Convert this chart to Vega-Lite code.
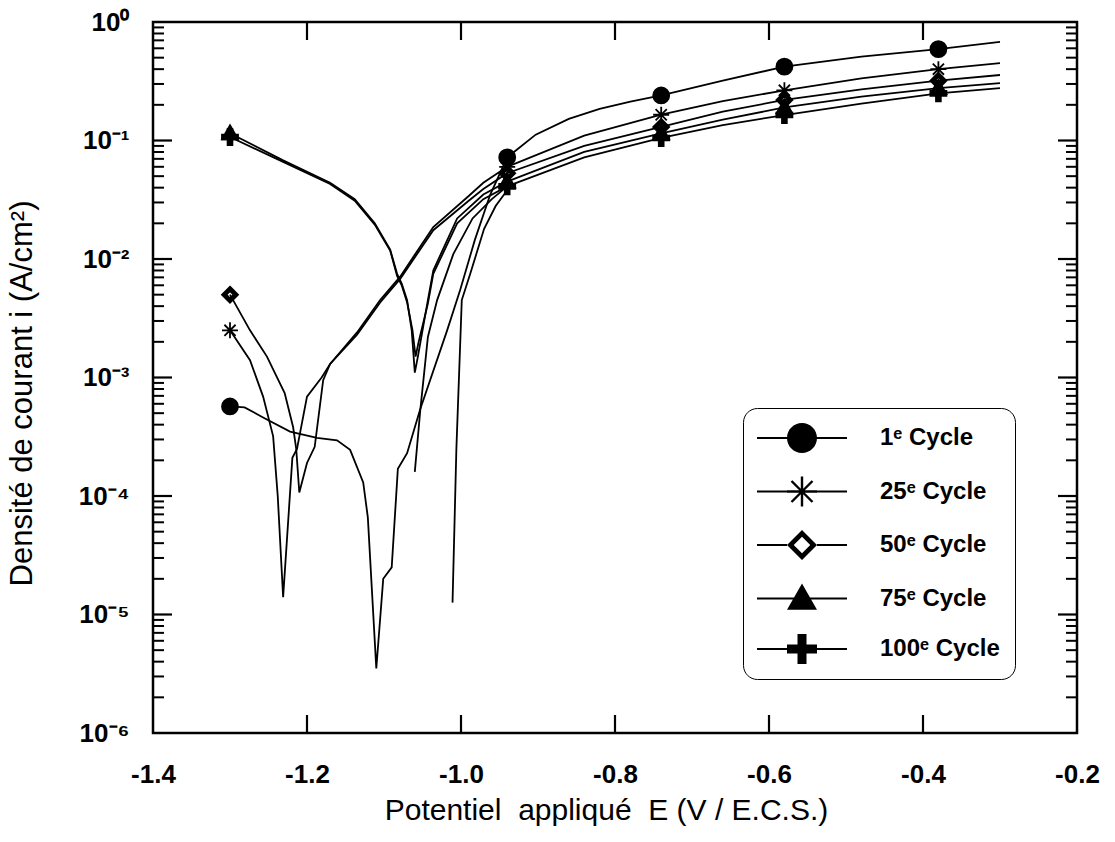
{
  "$schema": "https://vega.github.io/schema/vega-lite/v6.json",
  "autosize": {"type": "none"},
  "width": 924,
  "height": 711,
  "padding": {"left": 153, "top": 22, "right": 38, "bottom": 109},
  "background": "white",
  "config": {
    "view": {"stroke": "black", "strokeWidth": 2.5},
    "font": "Liberation Sans",
    "axis": {"grid": false, "labelColor": "black", "titleColor": "black", "domain": false, "labelFont": "Liberation Sans", "titleFont": "Liberation Sans"},
    "axisX": {"orient": "bottom", "ticks": false,
      "labelExpr": "(datum.value < 0 ? '-' : '') + format(abs(datum.value), '.1f')",
      "labelFontSize": 26, "labelFontWeight": "bold", "labelPadding": 28, "labelFlush": false,
      "titleFontSize": 30, "titleFontWeight": "normal", "titlePadding": 8, "titleX": 453},
    "axisY": {"orient": "left", "ticks": false,
      "labelExpr": "datum.value > 0.5 ? '10⁰' : datum.value > 0.05 ? '10⁻¹' : datum.value > 0.005 ? '10⁻²' : datum.value > 0.0005 ? '10⁻³' : datum.value > 0.00005 ? '10⁻⁴' : datum.value > 0.000005 ? '10⁻⁵' : '10⁻⁶'",
      "labelFontSize": 26, "labelFontWeight": "bold", "labelPadding": 24, "labelFlush": false, "labelOverlap": false,
      "titleFontSize": 31, "titleFontWeight": "normal", "titlePadding": 40, "titleY": 371}
  },
  "datasets": {
    "curves": [
      {"cycle": "1ᵉ Cycle", "seg": "1a", "E": -1.300, "i": 5.7e-4},
      {"cycle": "1ᵉ Cycle", "seg": "1a", "E": -1.281, "i": 5.6e-4},
      {"cycle": "1ᵉ Cycle", "seg": "1a", "E": -1.257, "i": 4.6e-4},
      {"cycle": "1ᵉ Cycle", "seg": "1a", "E": -1.222, "i": 3.5e-4},
      {"cycle": "1ᵉ Cycle", "seg": "1a", "E": -1.187, "i": 3.1e-4},
      {"cycle": "1ᵉ Cycle", "seg": "1a", "E": -1.161, "i": 2.95e-4},
      {"cycle": "1ᵉ Cycle", "seg": "1a", "E": -1.144, "i": 2.45e-4},
      {"cycle": "1ᵉ Cycle", "seg": "1a", "E": -1.127, "i": 1.3e-4},
      {"cycle": "1ᵉ Cycle", "seg": "1a", "E": -1.121, "i": 6.6e-5},
      {"cycle": "1ᵉ Cycle", "seg": "1a", "E": -1.110, "i": 3.5e-6},
      {"cycle": "1ᵉ Cycle", "seg": "1a", "E": -1.101, "i": 2.0e-5},
      {"cycle": "1ᵉ Cycle", "seg": "1a", "E": -1.090, "i": 2.5e-5},
      {"cycle": "1ᵉ Cycle", "seg": "1a", "E": -1.082, "i": 1.7e-4},
      {"cycle": "1ᵉ Cycle", "seg": "1a", "E": -1.070, "i": 2.3e-4},
      {"cycle": "1ᵉ Cycle", "seg": "1a", "E": -1.053, "i": 5.4e-4},
      {"cycle": "1ᵉ Cycle", "seg": "1a", "E": -1.018, "i": 2.5e-3},
      {"cycle": "1ᵉ Cycle", "seg": "1a", "E": -1.001, "i": 5.5e-3},
      {"cycle": "1ᵉ Cycle", "seg": "1a", "E": -0.982, "i": 0.0145},
      {"cycle": "1ᵉ Cycle", "seg": "1a", "E": -0.962, "i": 0.035},
      {"cycle": "1ᵉ Cycle", "seg": "1a", "E": -0.940, "i": 0.072},
      {"cycle": "1ᵉ Cycle", "seg": "1a", "E": -0.903, "i": 0.112},
      {"cycle": "1ᵉ Cycle", "seg": "1a", "E": -0.860, "i": 0.152},
      {"cycle": "1ᵉ Cycle", "seg": "1a", "E": -0.820, "i": 0.185},
      {"cycle": "1ᵉ Cycle", "seg": "1a", "E": -0.780, "i": 0.213},
      {"cycle": "1ᵉ Cycle", "seg": "1a", "E": -0.740, "i": 0.24},
      {"cycle": "1ᵉ Cycle", "seg": "1a", "E": -0.660, "i": 0.32},
      {"cycle": "1ᵉ Cycle", "seg": "1a", "E": -0.580, "i": 0.42},
      {"cycle": "1ᵉ Cycle", "seg": "1a", "E": -0.480, "i": 0.51},
      {"cycle": "1ᵉ Cycle", "seg": "1a", "E": -0.380, "i": 0.59},
      {"cycle": "1ᵉ Cycle", "seg": "1a", "E": -0.300, "i": 0.68},

      {"cycle": "25ᵉ Cycle", "seg": "25a", "E": -1.300, "i": 2.5e-3},
      {"cycle": "25ᵉ Cycle", "seg": "25a", "E": -1.274, "i": 1.4e-3},
      {"cycle": "25ᵉ Cycle", "seg": "25a", "E": -1.257, "i": 6.9e-4},
      {"cycle": "25ᵉ Cycle", "seg": "25a", "E": -1.244, "i": 3.2e-4},
      {"cycle": "25ᵉ Cycle", "seg": "25a", "E": -1.238, "i": 1.0e-4},
      {"cycle": "25ᵉ Cycle", "seg": "25a", "E": -1.231, "i": 1.4e-5},
      {"cycle": "25ᵉ Cycle", "seg": "25a", "E": -1.219, "i": 2.1e-4},
      {"cycle": "25ᵉ Cycle", "seg": "25a", "E": -1.213, "i": 2.5e-4},
      {"cycle": "25ᵉ Cycle", "seg": "25a", "E": -1.200, "i": 6.9e-4},
      {"cycle": "25ᵉ Cycle", "seg": "25a", "E": -1.181, "i": 1.0e-3},
      {"cycle": "25ᵉ Cycle", "seg": "25a", "E": -1.170, "i": 1.3e-3},
      {"cycle": "25ᵉ Cycle", "seg": "25a", "E": -1.135, "i": 2.4e-3},
      {"cycle": "25ᵉ Cycle", "seg": "25a", "E": -1.105, "i": 4.5e-3},
      {"cycle": "25ᵉ Cycle", "seg": "25a", "E": -1.079, "i": 7.1e-3},
      {"cycle": "25ᵉ Cycle", "seg": "25a", "E": -1.036, "i": 0.0186},
      {"cycle": "25ᵉ Cycle", "seg": "25a", "E": -0.990, "i": 0.034},
      {"cycle": "25ᵉ Cycle", "seg": "25a", "E": -0.971, "i": 0.044},
      {"cycle": "25ᵉ Cycle", "seg": "25a", "E": -0.940, "i": 0.060},
      {"cycle": "25ᵉ Cycle", "seg": "25a", "E": -0.840, "i": 0.11},
      {"cycle": "25ᵉ Cycle", "seg": "25a", "E": -0.740, "i": 0.165},
      {"cycle": "25ᵉ Cycle", "seg": "25a", "E": -0.660, "i": 0.215},
      {"cycle": "25ᵉ Cycle", "seg": "25a", "E": -0.580, "i": 0.265},
      {"cycle": "25ᵉ Cycle", "seg": "25a", "E": -0.480, "i": 0.335},
      {"cycle": "25ᵉ Cycle", "seg": "25a", "E": -0.380, "i": 0.40},
      {"cycle": "25ᵉ Cycle", "seg": "25a", "E": -0.300, "i": 0.45},

      {"cycle": "50ᵉ Cycle", "seg": "50a", "E": -1.300, "i": 5.0e-3},
      {"cycle": "50ᵉ Cycle", "seg": "50a", "E": -1.274, "i": 2.5e-3},
      {"cycle": "50ᵉ Cycle", "seg": "50a", "E": -1.252, "i": 1.5e-3},
      {"cycle": "50ᵉ Cycle", "seg": "50a", "E": -1.229, "i": 7.4e-4},
      {"cycle": "50ᵉ Cycle", "seg": "50a", "E": -1.218, "i": 3.8e-4},
      {"cycle": "50ᵉ Cycle", "seg": "50a", "E": -1.214, "i": 2.5e-4},
      {"cycle": "50ᵉ Cycle", "seg": "50a", "E": -1.210, "i": 1.07e-4},
      {"cycle": "50ᵉ Cycle", "seg": "50a", "E": -1.200, "i": 1.9e-4},
      {"cycle": "50ᵉ Cycle", "seg": "50a", "E": -1.190, "i": 2.6e-4},
      {"cycle": "50ᵉ Cycle", "seg": "50a", "E": -1.179, "i": 9.5e-4},
      {"cycle": "50ᵉ Cycle", "seg": "50a", "E": -1.170, "i": 1.3e-3},
      {"cycle": "50ᵉ Cycle", "seg": "50a", "E": -1.135, "i": 2.3e-3},
      {"cycle": "50ᵉ Cycle", "seg": "50a", "E": -1.105, "i": 4.3e-3},
      {"cycle": "50ᵉ Cycle", "seg": "50a", "E": -1.079, "i": 6.8e-3},
      {"cycle": "50ᵉ Cycle", "seg": "50a", "E": -1.036, "i": 0.0175},
      {"cycle": "50ᵉ Cycle", "seg": "50a", "E": -0.990, "i": 0.031},
      {"cycle": "50ᵉ Cycle", "seg": "50a", "E": -0.971, "i": 0.039},
      {"cycle": "50ᵉ Cycle", "seg": "50a", "E": -0.940, "i": 0.053},
      {"cycle": "50ᵉ Cycle", "seg": "50a", "E": -0.840, "i": 0.09},
      {"cycle": "50ᵉ Cycle", "seg": "50a", "E": -0.740, "i": 0.13},
      {"cycle": "50ᵉ Cycle", "seg": "50a", "E": -0.660, "i": 0.175},
      {"cycle": "50ᵉ Cycle", "seg": "50a", "E": -0.580, "i": 0.22},
      {"cycle": "50ᵉ Cycle", "seg": "50a", "E": -0.480, "i": 0.27},
      {"cycle": "50ᵉ Cycle", "seg": "50a", "E": -0.380, "i": 0.32},
      {"cycle": "50ᵉ Cycle", "seg": "50a", "E": -0.300, "i": 0.357},

      {"cycle": "75ᵉ Cycle", "seg": "75a", "E": -1.300, "i": 0.115},
      {"cycle": "75ᵉ Cycle", "seg": "75a", "E": -1.231, "i": 0.068},
      {"cycle": "75ᵉ Cycle", "seg": "75a", "E": -1.170, "i": 0.044},
      {"cycle": "75ᵉ Cycle", "seg": "75a", "E": -1.138, "i": 0.032},
      {"cycle": "75ᵉ Cycle", "seg": "75a", "E": -1.112, "i": 0.020},
      {"cycle": "75ᵉ Cycle", "seg": "75a", "E": -1.092, "i": 0.012},
      {"cycle": "75ᵉ Cycle", "seg": "75a", "E": -1.083, "i": 0.0075},
      {"cycle": "75ᵉ Cycle", "seg": "75a", "E": -1.077, "i": 0.0062},
      {"cycle": "75ᵉ Cycle", "seg": "75a", "E": -1.070, "i": 0.0045},
      {"cycle": "75ᵉ Cycle", "seg": "75a", "E": -1.064, "i": 0.0025},
      {"cycle": "75ᵉ Cycle", "seg": "75a", "E": -1.060, "i": 1.1e-3},
      {"cycle": "75ᵉ Cycle", "seg": "75a", "E": -1.056, "i": 1.5e-3},
      {"cycle": "75ᵉ Cycle", "seg": "75a", "E": -1.043, "i": 4.5e-3},
      {"cycle": "75ᵉ Cycle", "seg": "75a", "E": -1.036, "i": 8.0e-3},
      {"cycle": "75ᵉ Cycle", "seg": "75a", "E": -1.005, "i": 0.022},
      {"cycle": "75ᵉ Cycle", "seg": "75a", "E": -0.971, "i": 0.035},
      {"cycle": "75ᵉ Cycle", "seg": "75a", "E": -0.940, "i": 0.045},
      {"cycle": "75ᵉ Cycle", "seg": "75a", "E": -0.840, "i": 0.08},
      {"cycle": "75ᵉ Cycle", "seg": "75a", "E": -0.740, "i": 0.115},
      {"cycle": "75ᵉ Cycle", "seg": "75a", "E": -0.660, "i": 0.15},
      {"cycle": "75ᵉ Cycle", "seg": "75a", "E": -0.580, "i": 0.19},
      {"cycle": "75ᵉ Cycle", "seg": "75a", "E": -0.480, "i": 0.235},
      {"cycle": "75ᵉ Cycle", "seg": "75a", "E": -0.380, "i": 0.277},
      {"cycle": "75ᵉ Cycle", "seg": "75a", "E": -0.300, "i": 0.305},

      {"cycle": "75ᵉ Cycle", "seg": "75b", "E": -1.011, "i": 1.26e-5},
      {"cycle": "75ᵉ Cycle", "seg": "75b", "E": -1.006, "i": 2.5e-4},
      {"cycle": "75ᵉ Cycle", "seg": "75b", "E": -0.999, "i": 4.5e-3},
      {"cycle": "75ᵉ Cycle", "seg": "75b", "E": -0.988, "i": 0.0075},
      {"cycle": "75ᵉ Cycle", "seg": "75b", "E": -0.970, "i": 0.018},
      {"cycle": "75ᵉ Cycle", "seg": "75b", "E": -0.955, "i": 0.028},
      {"cycle": "75ᵉ Cycle", "seg": "75b", "E": -0.940, "i": 0.038},

      {"cycle": "100ᵉ Cycle", "seg": "100a", "E": -1.300, "i": 0.107},
      {"cycle": "100ᵉ Cycle", "seg": "100a", "E": -1.231, "i": 0.066},
      {"cycle": "100ᵉ Cycle", "seg": "100a", "E": -1.170, "i": 0.043},
      {"cycle": "100ᵉ Cycle", "seg": "100a", "E": -1.138, "i": 0.031},
      {"cycle": "100ᵉ Cycle", "seg": "100a", "E": -1.112, "i": 0.0195},
      {"cycle": "100ᵉ Cycle", "seg": "100a", "E": -1.092, "i": 0.0118},
      {"cycle": "100ᵉ Cycle", "seg": "100a", "E": -1.083, "i": 0.0072},
      {"cycle": "100ᵉ Cycle", "seg": "100a", "E": -1.077, "i": 0.006},
      {"cycle": "100ᵉ Cycle", "seg": "100a", "E": -1.070, "i": 0.0043},
      {"cycle": "100ᵉ Cycle", "seg": "100a", "E": -1.063, "i": 0.0025},
      {"cycle": "100ᵉ Cycle", "seg": "100a", "E": -1.059, "i": 1.5e-3},
      {"cycle": "100ᵉ Cycle", "seg": "100a", "E": -1.055, "i": 2.0e-3},
      {"cycle": "100ᵉ Cycle", "seg": "100a", "E": -1.043, "i": 4.2e-3},
      {"cycle": "100ᵉ Cycle", "seg": "100a", "E": -1.036, "i": 7.5e-3},
      {"cycle": "100ᵉ Cycle", "seg": "100a", "E": -1.005, "i": 0.020},
      {"cycle": "100ᵉ Cycle", "seg": "100a", "E": -0.971, "i": 0.032},
      {"cycle": "100ᵉ Cycle", "seg": "100a", "E": -0.940, "i": 0.041},
      {"cycle": "100ᵉ Cycle", "seg": "100a", "E": -0.840, "i": 0.072},
      {"cycle": "100ᵉ Cycle", "seg": "100a", "E": -0.740, "i": 0.105},
      {"cycle": "100ᵉ Cycle", "seg": "100a", "E": -0.660, "i": 0.135},
      {"cycle": "100ᵉ Cycle", "seg": "100a", "E": -0.580, "i": 0.164},
      {"cycle": "100ᵉ Cycle", "seg": "100a", "E": -0.480, "i": 0.205},
      {"cycle": "100ᵉ Cycle", "seg": "100a", "E": -0.380, "i": 0.25},
      {"cycle": "100ᵉ Cycle", "seg": "100a", "E": -0.300, "i": 0.277},

      {"cycle": "100ᵉ Cycle", "seg": "100b", "E": -1.060, "i": 1.6e-4},
      {"cycle": "100ᵉ Cycle", "seg": "100b", "E": -1.053, "i": 5.2e-4},
      {"cycle": "100ᵉ Cycle", "seg": "100b", "E": -1.043, "i": 2.2e-3},
      {"cycle": "100ᵉ Cycle", "seg": "100b", "E": -1.031, "i": 4.5e-3},
      {"cycle": "100ᵉ Cycle", "seg": "100b", "E": -1.010, "i": 0.011},
      {"cycle": "100ᵉ Cycle", "seg": "100b", "E": -0.985, "i": 0.022},
      {"cycle": "100ᵉ Cycle", "seg": "100b", "E": -0.960, "i": 0.032},
      {"cycle": "100ᵉ Cycle", "seg": "100b", "E": -0.940, "i": 0.041}
    ],
    "markers": [
      {"cycle": "1ᵉ Cycle", "E": -1.30, "i": 5.7e-4},
      {"cycle": "1ᵉ Cycle", "E": -0.94, "i": 0.072},
      {"cycle": "1ᵉ Cycle", "E": -0.74, "i": 0.24},
      {"cycle": "1ᵉ Cycle", "E": -0.58, "i": 0.42},
      {"cycle": "1ᵉ Cycle", "E": -0.38, "i": 0.59},
      {"cycle": "25ᵉ Cycle", "E": -1.30, "i": 2.5e-3},
      {"cycle": "25ᵉ Cycle", "E": -0.94, "i": 0.060},
      {"cycle": "25ᵉ Cycle", "E": -0.74, "i": 0.165},
      {"cycle": "25ᵉ Cycle", "E": -0.58, "i": 0.265},
      {"cycle": "25ᵉ Cycle", "E": -0.38, "i": 0.40},
      {"cycle": "50ᵉ Cycle", "E": -1.30, "i": 5.0e-3},
      {"cycle": "50ᵉ Cycle", "E": -0.94, "i": 0.053},
      {"cycle": "50ᵉ Cycle", "E": -0.74, "i": 0.13},
      {"cycle": "50ᵉ Cycle", "E": -0.58, "i": 0.22},
      {"cycle": "50ᵉ Cycle", "E": -0.38, "i": 0.32},
      {"cycle": "75ᵉ Cycle", "E": -1.30, "i": 0.115},
      {"cycle": "75ᵉ Cycle", "E": -0.94, "i": 0.045},
      {"cycle": "75ᵉ Cycle", "E": -0.74, "i": 0.115},
      {"cycle": "75ᵉ Cycle", "E": -0.58, "i": 0.19},
      {"cycle": "75ᵉ Cycle", "E": -0.38, "i": 0.277},
      {"cycle": "100ᵉ Cycle", "E": -1.30, "i": 0.107},
      {"cycle": "100ᵉ Cycle", "E": -0.94, "i": 0.041},
      {"cycle": "100ᵉ Cycle", "E": -0.74, "i": 0.105},
      {"cycle": "100ᵉ Cycle", "E": -0.58, "i": 0.164},
      {"cycle": "100ᵉ Cycle", "E": -0.38, "i": 0.25}
    ],
    "xticks": [{"t": -1.2}, {"t": -1.0}, {"t": -0.8}, {"t": -0.6}, {"t": -0.4}],
    "ymajor": [{"v": 1e-5}, {"v": 1e-4}, {"v": 1e-3}, {"v": 1e-2}, {"v": 1e-1}],
    "yminor": [
      {"v": 2e-6}, {"v": 3e-6}, {"v": 4e-6}, {"v": 5e-6}, {"v": 6e-6}, {"v": 7e-6}, {"v": 8e-6}, {"v": 9e-6},
      {"v": 2e-5}, {"v": 3e-5}, {"v": 4e-5}, {"v": 5e-5}, {"v": 6e-5}, {"v": 7e-5}, {"v": 8e-5}, {"v": 9e-5},
      {"v": 2e-4}, {"v": 3e-4}, {"v": 4e-4}, {"v": 5e-4}, {"v": 6e-4}, {"v": 7e-4}, {"v": 8e-4}, {"v": 9e-4},
      {"v": 2e-3}, {"v": 3e-3}, {"v": 4e-3}, {"v": 5e-3}, {"v": 6e-3}, {"v": 7e-3}, {"v": 8e-3}, {"v": 9e-3},
      {"v": 2e-2}, {"v": 3e-2}, {"v": 4e-2}, {"v": 5e-2}, {"v": 6e-2}, {"v": 7e-2}, {"v": 8e-2}, {"v": 9e-2},
      {"v": 2e-1}, {"v": 3e-1}, {"v": 4e-1}, {"v": 5e-1}, {"v": 6e-1}, {"v": 7e-1}, {"v": 8e-1}, {"v": 9e-1}
    ]
  },
  "layer": [
    {
      "data": {"name": "curves"},
      "mark": {"type": "line", "color": "black", "strokeWidth": 1.8},
      "encoding": {
        "x": {"field": "E", "type": "quantitative", "scale": {"domain": [-1.4, -0.2], "nice": false, "zero": false},
          "axis": {"title": "Potentiel\u00a0 appliqué\u00a0 E (V / E.C.S.)", "values": [-1.4, -1.2, -1.0, -0.8, -0.6, -0.4, -0.2]}},
        "y": {"field": "i", "type": "quantitative", "scale": {"type": "log", "domain": [1e-6, 1], "nice": false},
          "axis": {"title": "Densité de courant i (A/cm²)", "values": [1e-6, 1e-5, 1e-4, 1e-3, 1e-2, 1e-1, 1]}},
        "detail": {"field": "seg"}
      }
    },
    {
      "data": {"name": "xticks"},
      "mark": {"type": "rule", "color": "black", "strokeWidth": 2.2},
      "encoding": {
        "x": {"field": "t", "type": "quantitative", "axis": {"title": "Potentiel\u00a0 appliqué\u00a0 E (V / E.C.S.)", "values": [-1.4, -1.2, -1.0, -0.8, -0.6, -0.4, -0.2]}},
        "y": {"datum": 1e-6, "type": "quantitative", "axis": {"title": "Densité de courant i (A/cm²)", "values": [1e-6, 1e-5, 1e-4, 1e-3, 1e-2, 1e-1, 1]}},
        "y2": {"datum": 1.4187e-6}
      }
    },
    {
      "data": {"name": "xticks"},
      "mark": {"type": "rule", "color": "black", "strokeWidth": 2.2},
      "encoding": {
        "x": {"field": "t", "type": "quantitative", "axis": {"title": "Potentiel\u00a0 appliqué\u00a0 E (V / E.C.S.)", "values": [-1.4, -1.2, -1.0, -0.8, -0.6, -0.4, -0.2]}},
        "y": {"datum": 1, "type": "quantitative", "axis": {"title": "Densité de courant i (A/cm²)", "values": [1e-6, 1e-5, 1e-4, 1e-3, 1e-2, 1e-1, 1]}},
        "y2": {"datum": 0.7049}
      }
    },
    {
      "data": {"name": "ymajor"},
      "mark": {"type": "rule", "color": "black", "strokeWidth": 2.2},
      "encoding": {
        "y": {"field": "v", "type": "quantitative", "axis": {"title": "Densité de courant i (A/cm²)", "values": [1e-6, 1e-5, 1e-4, 1e-3, 1e-2, 1e-1, 1]}},
        "x": {"datum": -1.4, "type": "quantitative", "axis": {"title": "Potentiel\u00a0 appliqué\u00a0 E (V / E.C.S.)", "values": [-1.4, -1.2, -1.0, -0.8, -0.6, -0.4, -0.2]}},
        "x2": {"datum": -1.3753}
      }
    },
    {
      "data": {"name": "yminor"},
      "mark": {"type": "rule", "color": "black", "strokeWidth": 2},
      "encoding": {
        "y": {"field": "v", "type": "quantitative", "axis": {"title": "Densité de courant i (A/cm²)", "values": [1e-6, 1e-5, 1e-4, 1e-3, 1e-2, 1e-1, 1]}},
        "x": {"datum": -1.4, "type": "quantitative", "axis": {"title": "Potentiel\u00a0 appliqué\u00a0 E (V / E.C.S.)", "values": [-1.4, -1.2, -1.0, -0.8, -0.6, -0.4, -0.2]}},
        "x2": {"datum": -1.3857}
      }
    },
    {
      "data": {"name": "ymajor"},
      "mark": {"type": "rule", "color": "black", "strokeWidth": 2.2},
      "encoding": {
        "y": {"field": "v", "type": "quantitative", "axis": {"title": "Densité de courant i (A/cm²)", "values": [1e-6, 1e-5, 1e-4, 1e-3, 1e-2, 1e-1, 1]}},
        "x": {"datum": -0.2, "type": "quantitative", "axis": {"title": "Potentiel\u00a0 appliqué\u00a0 E (V / E.C.S.)", "values": [-1.4, -1.2, -1.0, -0.8, -0.6, -0.4, -0.2]}},
        "x2": {"datum": -0.2247}
      }
    },
    {
      "data": {"name": "yminor"},
      "mark": {"type": "rule", "color": "black", "strokeWidth": 2},
      "encoding": {
        "y": {"field": "v", "type": "quantitative", "axis": {"title": "Densité de courant i (A/cm²)", "values": [1e-6, 1e-5, 1e-4, 1e-3, 1e-2, 1e-1, 1]}},
        "x": {"datum": -0.2, "type": "quantitative", "axis": {"title": "Potentiel\u00a0 appliqué\u00a0 E (V / E.C.S.)", "values": [-1.4, -1.2, -1.0, -0.8, -0.6, -0.4, -0.2]}},
        "x2": {"datum": -0.2143}
      }
    },
    {
      "data": {"name": "markers"},
      "mark": {"type": "point", "filled": true, "color": "black", "stroke": "black", "strokeWidth": 1.8, "size": 256, "opacity": 1},
      "encoding": {
        "x": {"field": "E", "type": "quantitative", "axis": {"title": "Potentiel\u00a0 appliqué\u00a0 E (V / E.C.S.)", "values": [-1.4, -1.2, -1.0, -0.8, -0.6, -0.4, -0.2]}},
        "y": {"field": "i", "type": "quantitative", "axis": {"title": "Densité de courant i (A/cm²)", "values": [1e-6, 1e-5, 1e-4, 1e-3, 1e-2, 1e-1, 1]}},
        "shape": {"field": "cycle", "type": "nominal",
          "scale": {"domain": ["1ᵉ Cycle", "25ᵉ Cycle", "50ᵉ Cycle", "75ᵉ Cycle", "100ᵉ Cycle"],
            "range": [
              "M1,0A1,1,0,1,1,-1,0A1,1,0,1,1,1,0Z",
              "M0,-1V1M-1,0H1M-0.7,-0.7L0.7,0.7M-0.7,0.7L0.7,-0.7",
              "M0,-1L1,0L0,1L-1,0Z M0,-0.45L-0.45,0L0,0.45L0.45,0Z",
              "M0,-1L1,0.75L-1,0.75Z",
              "M-0.3,-1H0.3V-0.3H1V0.3H0.3V1H-0.3V0.3H-1V-0.3H-0.3Z"
            ]},
          "legend": null}
      }
    },
    {
      "data": {"name": "markers"},
      "mark": {"type": "point", "filled": true, "color": "black", "size": 256, "opacity": 0},
      "encoding": {
        "x": {"field": "E", "type": "quantitative", "axis": {"title": "Potentiel\u00a0 appliqué\u00a0 E (V / E.C.S.)", "values": [-1.4, -1.2, -1.0, -0.8, -0.6, -0.4, -0.2]}},
        "y": {"field": "i", "type": "quantitative", "axis": {"title": "Densité de courant i (A/cm²)", "values": [1e-6, 1e-5, 1e-4, 1e-3, 1e-2, 1e-1, 1]}},
        "shape": {"field": "cycle", "type": "nominal",
          "scale": {"domain": ["1ᵉ Cycle", "25ᵉ Cycle", "50ᵉ Cycle", "75ᵉ Cycle", "100ᵉ Cycle"],
            "range": [
              "M-3,-0.07H3V0.07H-3Z M1,0A1,1,0,1,1,-1,0A1,1,0,1,1,1,0Z",
              "M-3,-0.07H3V0.07H-3Z M-0.08,-1H0.08V1H-0.08Z M-1,-0.08H1V0.08H-1Z M-0.757,-0.643L-0.643,-0.757L0.757,0.643L0.643,0.757Z M-0.643,0.757L-0.757,0.643L0.643,-0.757L0.757,-0.643Z",
              "M-3,-0.07H-1V0.07H-3Z M1,-0.07H3V0.07H1Z M0,-1L1,0L0,1L-1,0Z M0,-0.55L-0.55,0L0,0.55L0.55,0Z",
              "M-3,-0.07H3V0.07H-3Z M0,-1L1,0.75L-1,0.75Z",
              "M-3,-0.07H3V0.07H-3Z M-0.3,-1H0.3V-0.3H1V0.3H0.3V1H-0.3V0.3H-1V-0.3H-0.3Z"
            ]},
          "legend": {"title": null, "orient": "none", "legendX": 590, "legendY": 386,
            "padding": 15, "cornerRadius": 14, "strokeColor": "black", "fillColor": "white",
            "symbolSize": 900, "symbolStrokeWidth": 0, "symbolFillColor": "black", "symbolStrokeColor": "transparent", "symbolOpacity": 1,
            "symbolOffset": 29, "labelOffset": 63, "rowPadding": 23.5,
            "labelFont": "Liberation Sans", "labelFontSize": 24, "labelFontWeight": "bold", "labelColor": "black", "labelLimit": 400}}
      }
    }
  ],
  "resolve": {"scale": {"shape": "independent"}, "legend": {"shape": "independent"}}
}
